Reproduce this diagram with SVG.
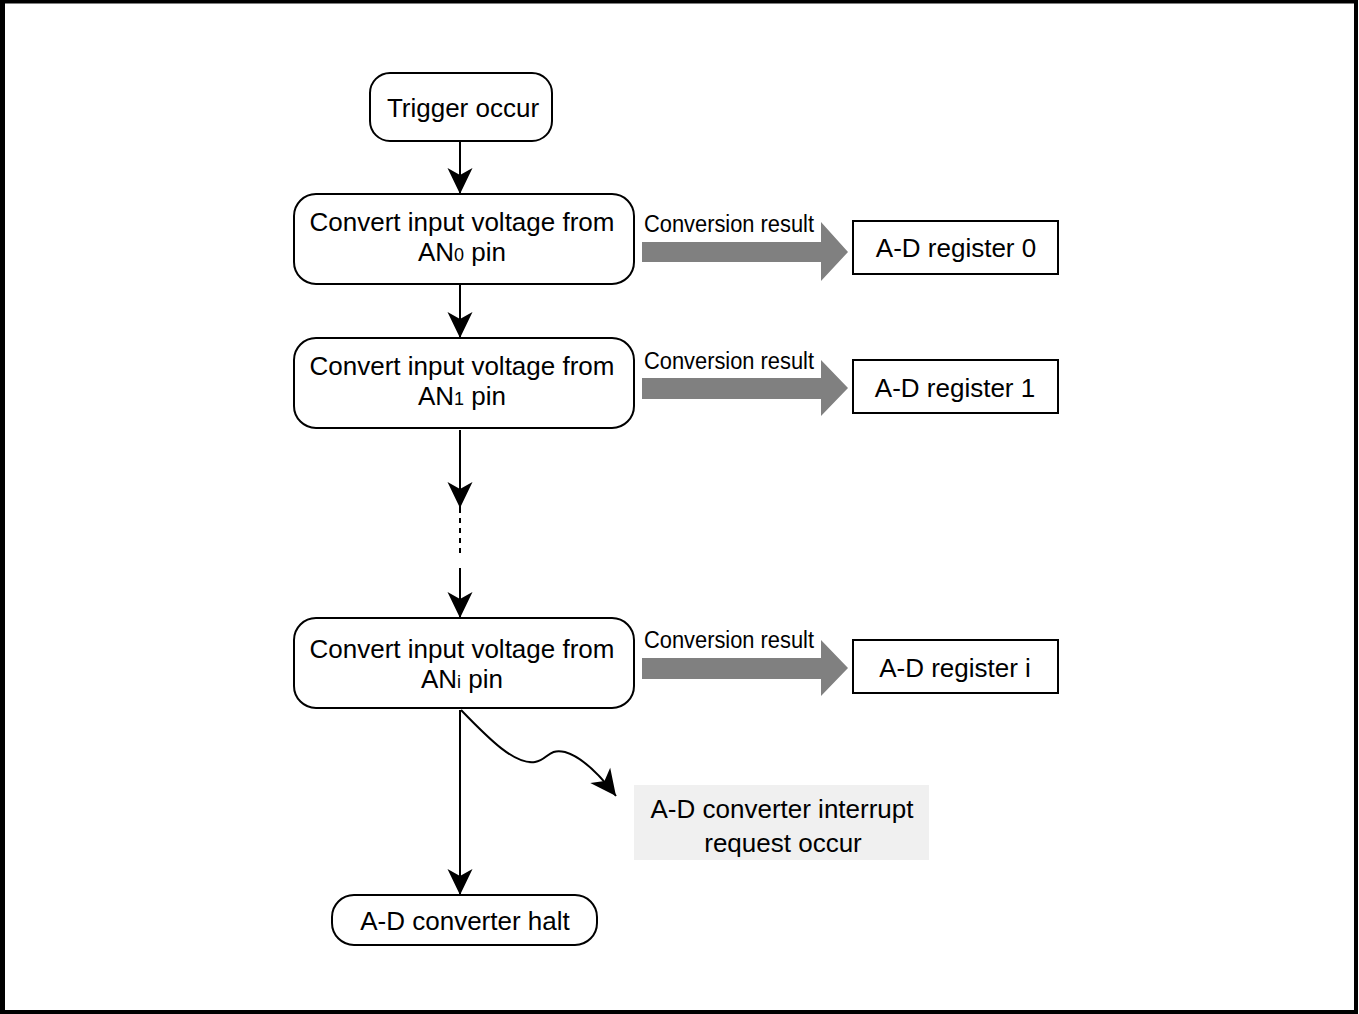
<svg xmlns="http://www.w3.org/2000/svg" width="1359" height="1014" viewBox="0 0 1359 1014">
<defs>
<marker id="ah" viewBox="-27 -13 28 26" markerWidth="28" markerHeight="26" refX="0" refY="0" orient="auto" markerUnits="userSpaceOnUse">
<path d="M0,0 L-26,-12.5 L-19,0 L-26,12.5 Z" fill="#000"/>
</marker>
<style>
text{font-family:"Liberation Sans",Arial,sans-serif;fill:#000}
.t{font-size:26px;text-anchor:middle}
.s{font-size:18px}
.lbl{font-size:23px}
.rnd{fill:#fff;stroke:#000;stroke-width:2}
.reg{fill:#fff;stroke:#000;stroke-width:2}
.ln{fill:none;stroke:#000;stroke-width:2}
.gr{fill:#808080}
</style>
</defs>
<rect x="0" y="0" width="1359" height="1014" fill="#fff"/>
<rect x="2.5" y="1.5" width="1353.5" height="1010.5" fill="none" stroke="#000" stroke-width="4"/>
<rect x="0" y="0" width="5" height="1014" fill="#000"/>

<g id="connectors">
<line class="ln" x1="460" y1="141" x2="460" y2="194" marker-end="url(#ah)"/>
<line class="ln" x1="460" y1="284" x2="460" y2="338" marker-end="url(#ah)"/>
<line class="ln" x1="460" y1="430" x2="460" y2="508" marker-end="url(#ah)"/>
<line class="ln" x1="460" y1="508" x2="460" y2="558" stroke-dasharray="5 5"/>
<line class="ln" x1="460" y1="568" x2="460" y2="618" marker-end="url(#ah)"/>
<line class="ln" x1="460" y1="710" x2="460" y2="895" marker-end="url(#ah)"/>
<path class="ln" d="M461,710 C490,740 515,765 535,762 C548,760 548,748 565,752 C582,757 600,775 616,796" marker-end="url(#ah)"/>
<polygon class="gr" points="642,242 821,242 821,222 848,252 821,281 821,262 642,262"/>
<polygon class="gr" points="642,378 821,378 821,360 848,388 821,416 821,399 642,399"/>
<polygon class="gr" points="642,658 821,658 821,640 848,668 821,696 821,679 642,679"/>
<text class="lbl" x="644" y="232" textLength="170" lengthAdjust="spacingAndGlyphs">Conversion result</text>
<text class="lbl" x="644" y="369" textLength="170" lengthAdjust="spacingAndGlyphs">Conversion result</text>
<text class="lbl" x="644" y="648" textLength="170" lengthAdjust="spacingAndGlyphs">Conversion result</text>
</g>

<g id="trigger">
<rect class="rnd" x="370" y="73" width="182" height="68" rx="20"/>
<text class="t" x="463" y="117">Trigger occur</text>
</g>
<g id="conv0">
<rect class="rnd" x="294" y="194" width="340" height="90" rx="22"/>
<text class="t" x="462" y="231">Convert input voltage from</text>
<text class="t" x="462" y="261">AN<tspan class="s">0</tspan> pin</text>
</g>
<g id="conv1">
<rect class="rnd" x="294" y="338" width="340" height="90" rx="22"/>
<text class="t" x="462" y="375">Convert input voltage from</text>
<text class="t" x="462" y="405">AN<tspan class="s">1</tspan> pin</text>
</g>
<g id="convi">
<rect class="rnd" x="294" y="618" width="340" height="90" rx="22"/>
<text class="t" x="462" y="658">Convert input voltage from</text>
<text class="t" x="462" y="688">AN<tspan class="s">i</tspan> pin</text>
</g>
<g id="reg0">
<rect class="reg" x="853" y="221" width="205" height="53"/>
<text class="t" x="956" y="257">A-D register 0</text>
</g>
<g id="reg1">
<rect class="reg" x="853" y="360" width="205" height="53"/>
<text class="t" x="955" y="397">A-D register 1</text>
</g>
<g id="regi">
<rect class="reg" x="853" y="640" width="205" height="53"/>
<text class="t" x="955" y="677">A-D register i</text>
</g>
<g id="interrupt">
<rect x="634" y="785" width="295" height="75" fill="#f0f0f0"/>
<text class="t" x="782" y="818">A-D converter interrupt</text>
<text class="t" x="783" y="852">request occur</text>
</g>
<g id="halt">
<rect class="rnd" x="332" y="895" width="265" height="50" rx="22"/>
<text class="t" x="465" y="930">A-D converter halt</text>
</g>
</svg>
